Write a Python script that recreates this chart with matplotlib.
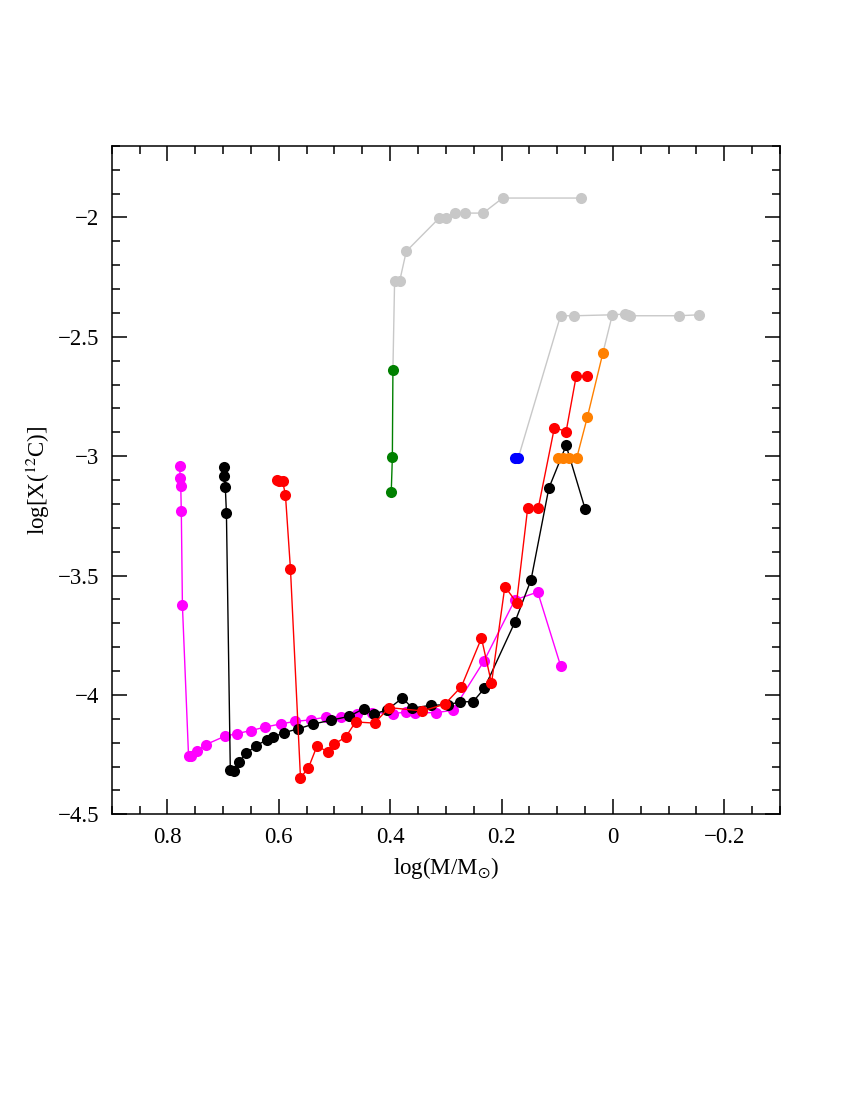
import matplotlib
matplotlib.use("Agg")
import matplotlib.pyplot as plt
from matplotlib.ticker import MultipleLocator

plt.rcParams['font.family'] = ['Liberation Serif', 'DejaVu Serif']
plt.rcParams['mathtext.fontset'] = 'stix'

# track data: log(M/Msun) vs log X(12C)
magenta_x = [0.778, 0.777, 0.776, 0.775, 0.773, 0.762, 0.758, 0.746, 0.731, 0.697,
             0.675, 0.650, 0.625, 0.596, 0.571, 0.542, 0.516, 0.488, 0.460, 0.433,
             0.395, 0.372, 0.356, 0.317, 0.287, 0.231, 0.176, 0.135, 0.094]
magenta_y = [-3.040, -3.092, -3.123, -3.229, -3.625, -4.255, -4.255, -4.233, -4.208, -4.173,
             -4.162, -4.149, -4.135, -4.121, -4.111, -4.104, -4.093, -4.092, -4.079, -4.074,
             -4.078, -4.072, -4.075, -4.074, -4.064, -3.856, -3.602, -3.569, -3.877]

black_x = [0.699, 0.698, 0.696, 0.694, 0.687, 0.680, 0.672, 0.659, 0.640, 0.622,
           0.611, 0.591, 0.565, 0.538, 0.507, 0.474, 0.447, 0.429, 0.405, 0.378,
           0.360, 0.326, 0.296, 0.274, 0.251, 0.231, 0.176, 0.147, 0.115, 0.084, 0.050]
black_y = [-3.046, -3.082, -3.129, -3.236, -4.314, -4.317, -4.282, -4.245, -4.212, -4.188,
           -4.178, -4.158, -4.142, -4.122, -4.106, -4.090, -4.057, -4.080, -4.062, -4.013,
           -4.055, -4.043, -4.041, -4.029, -4.028, -3.973, -3.695, -3.518, -3.134, -2.955, -3.220]

red_x = [0.604, 0.599, 0.593, 0.588, 0.579, 0.561, 0.547, 0.531, 0.512, 0.500,
         0.480, 0.462, 0.428, 0.402, 0.342, 0.302, 0.272, 0.236, 0.218, 0.194,
         0.173, 0.153, 0.134, 0.105, 0.084, 0.066, 0.046]
red_y = [-3.099, -3.102, -3.106, -3.162, -3.472, -4.346, -4.307, -4.212, -4.240, -4.205,
         -4.177, -4.113, -4.118, -4.053, -4.067, -4.039, -3.965, -3.762, -3.951, -3.546,
         -3.613, -3.217, -3.217, -2.880, -2.897, -2.666, -2.666]

orange_x = [0.099, 0.090, 0.078, 0.065, 0.046, 0.018]
orange_y = [-3.008, -3.008, -3.008, -3.008, -2.838, -2.568]

blue_x = [0.176, 0.170]
blue_y = [-3.008, -3.008]

green_x = [0.395, 0.396, 0.398]
green_y = [-2.638, -3.004, -3.149]

gray_top_x = [0.395, 0.392, 0.383, 0.371, 0.312, 0.299, 0.284, 0.265, 0.233, 0.198, 0.058]
gray_top_y = [-2.638, -2.268, -2.268, -2.142, -2.003, -2.003, -1.982, -1.982, -1.982, -1.919, -1.919]

gray_low_x = [0.170, 0.094, 0.069, 0.001, -0.021, -0.027, -0.031, -0.118, -0.154]
gray_low_y = [-3.008, -2.412, -2.412, -2.408, -2.405, -2.409, -2.412, -2.412, -2.408]

gray_link_x = [0.018, 0.001]
gray_link_y = [-2.568, -2.408]

fig = plt.figure(figsize=(8.5, 11), dpi=100)
ax = fig.add_axes([0.1314, 0.2597, 0.7862, 0.6078])

ms = 8.0
lw = 1.0
gray = '#c8c8c8'
ax.plot(gray_top_x[1:], gray_top_y[1:], 'o', color=gray, ms=ms, mec='none')
ax.plot(gray_top_x, gray_top_y, '-', color=gray, lw=lw)
ax.plot(gray_low_x[1:], gray_low_y[1:], 'o', color=gray, ms=ms, mec='none')
ax.plot(gray_low_x, gray_low_y, '-', color=gray, lw=lw)
ax.plot(gray_link_x, gray_link_y, '-', color=gray, lw=lw)

series = [
    (green_x, green_y, '#008000'),
    (blue_x, blue_y, '#0000ff'),
    (magenta_x, magenta_y, '#ff00ff'),
    (black_x, black_y, 'black'),
    (red_x, red_y, '#ff0000'),
    (orange_x, orange_y, '#ff8000'),
]
for xs, ys, c in series:
    ax.plot(xs, ys, '-o', color=c, lw=lw, ms=ms, mec='none')

ax.set_xlim(0.9, -0.3)
ax.set_ylim(-4.5, -1.7)
ax.xaxis.set_minor_locator(MultipleLocator(0.05))
ax.yaxis.set_minor_locator(MultipleLocator(0.1))
ax.set_xticks([0.8, 0.6, 0.4, 0.2, 0.0, -0.2])
ax.set_xticklabels(['0.8', '0.6', '0.4', '0.2', '0', '\u22120.2'])
ax.set_yticks([-2, -2.5, -3, -3.5, -4, -4.5])
ax.set_yticklabels(['\u22122', '\u22122.5', '\u22123', '\u22123.5', '\u22124', '\u22124.5'])

ax.tick_params(which='both', direction='in', top=True, right=True, width=1.1,
               labelsize=16.5)
ax.tick_params(which='major', length=11, pad=9)
ax.tick_params(which='minor', length=5.5)
for s in ax.spines.values():
    s.set_linewidth(1.1)

ax.set_xlabel(r'log(M/M$_{\odot}$)', fontsize=16.5, labelpad=5)
ax.set_ylabel(r'log[X($^{12}$C)]', fontsize=16.5, labelpad=4)

fig.savefig('out.png', dpi=100)
